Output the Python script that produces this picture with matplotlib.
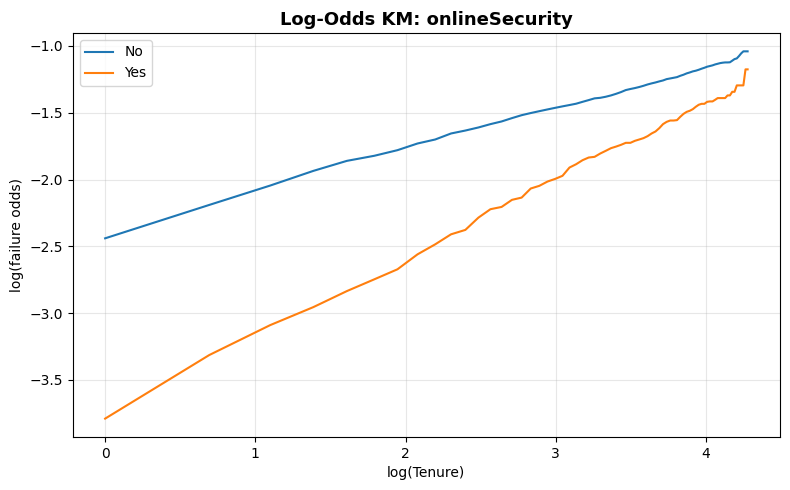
import matplotlib.pyplot as plt
import numpy as np

# tenure in months (1..72) and log-odds of failure
tenure = np.arange(1, 73)

no_vals = [-2.44, -2.19, -2.045, -1.935, -1.86, -1.822, -1.78, -1.73, -1.70, -1.655,
           -1.633, -1.61, -1.585, -1.565, -1.54, -1.518, -1.502, -1.488, -1.475, -1.463,
           -1.452, -1.442, -1.432, -1.418, -1.405, -1.392, -1.388, -1.38, -1.37, -1.358,
           -1.345, -1.33, -1.322, -1.315, -1.307, -1.298, -1.288, -1.28, -1.273, -1.265,
           -1.258, -1.248, -1.243, -1.238, -1.233, -1.223, -1.215, -1.205, -1.198, -1.19,
           -1.185, -1.178, -1.17, -1.163, -1.155, -1.15, -1.145, -1.138, -1.133, -1.128,
           -1.125, -1.123, -1.123, -1.122, -1.11, -1.098, -1.093, -1.075, -1.055, -1.04,
           -1.04, -1.04]

yes_vals = [-3.79, -3.314, -3.09, -2.955, -2.835, -2.747, -2.672, -2.56, -2.485, -2.41,
            -2.377, -2.285, -2.222, -2.205, -2.152, -2.135, -2.067, -2.047, -2.015, -1.995,
            -1.972, -1.91, -1.885, -1.855, -1.835, -1.83, -1.805, -1.785, -1.765, -1.753,
            -1.74, -1.725, -1.725, -1.71, -1.70, -1.69, -1.675, -1.655, -1.64, -1.615,
            -1.585, -1.568, -1.558, -1.558, -1.555, -1.53, -1.508, -1.493, -1.485, -1.473,
            -1.455, -1.44, -1.433, -1.433, -1.418, -1.415, -1.415, -1.403, -1.39, -1.39,
            -1.39, -1.39, -1.37, -1.37, -1.343, -1.343, -1.295, -1.295, -1.295, -1.295,
            -1.175, -1.175]

groups = ['No', 'Yes']

fig = plt.figure(figsize=(7.9, 4.9), dpi=100)
x = np.log(tenure)
plt.plot(x, no_vals, label=groups[0])
plt.plot(x, yes_vals, label=groups[1])

plt.title('Log-Odds KM: onlineSecurity', fontsize=13, fontweight='bold')
plt.xlabel('log(Tenure)')
plt.ylabel('log(failure odds)')
plt.grid(True, alpha=0.3)
plt.legend(loc='upper left')
plt.subplots_adjust(left=0.0924, right=0.987, top=0.9327, bottom=0.1082)
plt.savefig('out.png', dpi=100)
